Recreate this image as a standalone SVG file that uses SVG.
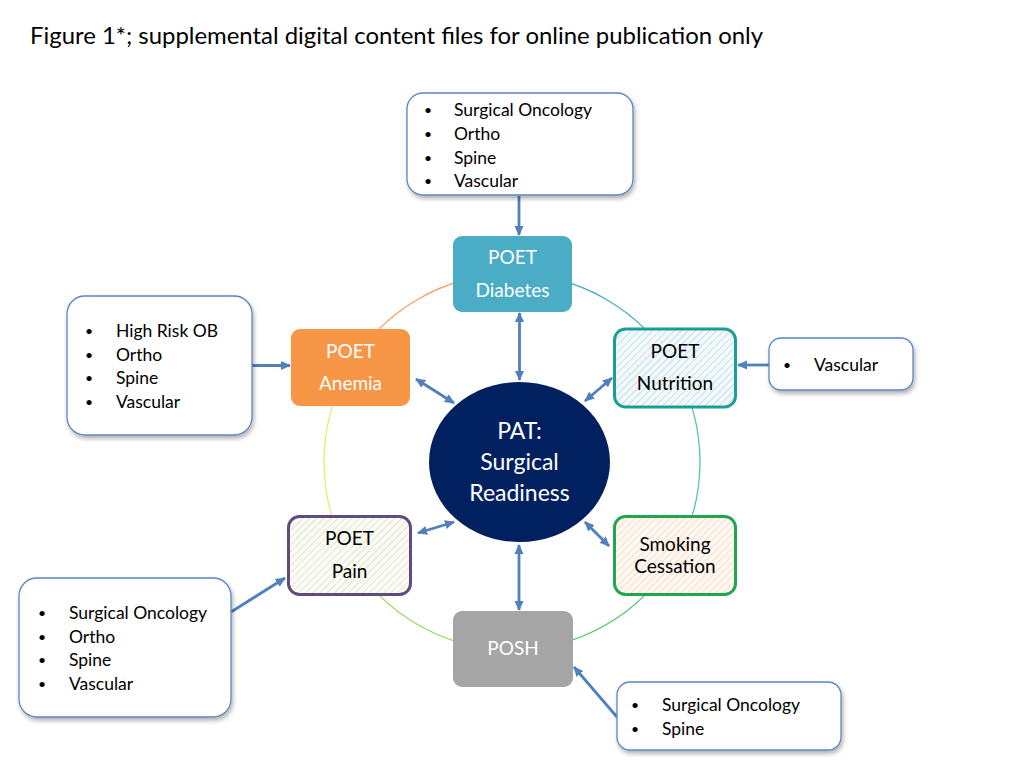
<svg xmlns="http://www.w3.org/2000/svg" width="1024" height="768" viewBox="0 0 1024 768">
<style>
  text { font-family: Lato, "Liberation Sans", sans-serif; }
  .title { font-size: 22.5px; fill: #000; }
  .ntw { font-size: 19px; fill: #fff; text-anchor: middle; }
  .ntb { font-size: 19px; fill: #000; text-anchor: middle; }
  .ct { font-size: 23px; fill: #fff; text-anchor: middle; }
  .bl { font-size: 17.5px; fill: #000; }
  .bu { font-size: 14px; fill: #000; }
  .callout { fill: #fff; stroke: #5B87C1; stroke-width: 1.3; filter: url(#sh); }
  .conn { stroke: #4F81BD; stroke-width: 2.8; fill: none; }
  .ring { fill: none; stroke-width: 1.3; }
</style>
<defs>
  <filter id="sh" x="-10%" y="-10%" width="130%" height="140%">
    <feDropShadow dx="1.5" dy="3" stdDeviation="2" flood-color="#000" flood-opacity="0.3"/>
  </filter>
  <marker id="ah" viewBox="0 0 10 10" markerWidth="3.6" markerHeight="3.6" refX="9" refY="5" orient="auto-start-reverse" markerUnits="strokeWidth">
    <path d="M0,0.5 L10,5 L0,9.5 z" fill="#4F81BD"/>
  </marker>
  <pattern id="hNut" width="5" height="5" patternUnits="userSpaceOnUse" patternTransform="rotate(45)">
    <rect width="5" height="5" fill="#F3F9FB"/>
    <line x1="0" y1="0" x2="0" y2="5" stroke="#B9DCE6" stroke-width="1.6"/>
  </pattern>
  <pattern id="hSmk" width="5" height="5" patternUnits="userSpaceOnUse" patternTransform="rotate(45)">
    <rect width="5" height="5" fill="#FFF8F3"/>
    <line x1="0" y1="0" x2="0" y2="5" stroke="#F6D5C0" stroke-width="1.6"/>
  </pattern>
  <pattern id="hPain" width="5" height="5" patternUnits="userSpaceOnUse" patternTransform="rotate(45)">
    <rect width="5" height="5" fill="#FAFBF4"/>
    <line x1="0" y1="0" x2="0" y2="5" stroke="#DCE4C8" stroke-width="1.6"/>
  </pattern>
</defs>

<rect width="1024" height="768" fill="#fff"/>

<text class="title" x="30" y="44" textLength="733" lengthAdjust="spacingAndGlyphs">Figure 1*; supplemental digital content files for online publication only</text>

<g id="ring">
  <path class="ring" stroke="#4BACC6" d="M512,274 A188,188 0 0 1 674.8,368"/>
  <path class="ring" stroke="#4FC9B0" d="M674.8,368 A188,188 0 0 1 674.8,556"/>
  <path class="ring" stroke="#4CC95E" d="M674.8,556 A188,188 0 0 1 512,650"/>
  <path class="ring" stroke="#92DD5A" d="M512,650 A188,188 0 0 1 349.2,556"/>
  <path class="ring" stroke="#EDEB62" d="M349.2,556 A188,188 0 0 1 349.2,368"/>
  <path class="ring" stroke="#F4A06A" d="M349.2,368 A188,188 0 0 1 512,274"/>
</g>

<g id="connectors">
  <line class="conn" x1="519" y1="196" x2="519" y2="235" marker-end="url(#ah)"/>
  <line class="conn" x1="252" y1="365.5" x2="290" y2="365.5" marker-end="url(#ah)"/>
  <line class="conn" x1="769" y1="365" x2="738" y2="365" marker-end="url(#ah)"/>
  <line class="conn" x1="231" y1="612" x2="285" y2="578" marker-end="url(#ah)"/>
  <line class="conn" x1="617" y1="717" x2="574" y2="667" marker-end="url(#ah)"/>
  <line class="conn" x1="519.5" y1="313" x2="519.5" y2="380" marker-start="url(#ah)" marker-end="url(#ah)"/>
  <line class="conn" x1="416" y1="379" x2="454" y2="403" marker-start="url(#ah)" marker-end="url(#ah)"/>
  <line class="conn" x1="612" y1="378" x2="585" y2="401" marker-start="url(#ah)" marker-end="url(#ah)"/>
  <line class="conn" x1="418" y1="533" x2="454" y2="522" marker-start="url(#ah)" marker-end="url(#ah)"/>
  <line class="conn" x1="585" y1="522" x2="609" y2="546" marker-start="url(#ah)" marker-end="url(#ah)"/>
  <line class="conn" x1="519" y1="545" x2="519" y2="610" marker-start="url(#ah)" marker-end="url(#ah)"/>
</g>

<g id="pat">
  <ellipse cx="519.5" cy="462" rx="90.5" ry="80" fill="#002060"/>
  <text class="ct" x="519.5" y="439">PAT:</text>
  <text class="ct" x="519.5" y="470">Surgical</text>
  <text class="ct" x="519.5" y="501">Readiness</text>
</g>

<g id="diabetes">
  <rect x="453" y="236" width="119" height="76" rx="9" fill="#4BACC6"/>
  <text class="ntw" x="512.5" y="264">POET</text>
  <text class="ntw" x="512.5" y="297">Diabetes</text>
</g>

<g id="anemia">
  <rect x="291" y="329" width="119" height="77" rx="9" fill="#F79646"/>
  <text class="ntw" x="350.5" y="358">POET</text>
  <text class="ntw" x="350.5" y="390">Anemia</text>
</g>

<g id="nutrition">
  <rect x="614.5" y="329" width="121" height="78" rx="11" fill="url(#hNut)" stroke="#1C9D9A" stroke-width="3"/>
  <text class="ntb" x="675" y="358">POET</text>
  <text class="ntb" x="675" y="390">Nutrition</text>
</g>

<g id="smoking">
  <rect x="614.5" y="516.5" width="121" height="78" rx="11" fill="url(#hSmk)" stroke="#1FA64F" stroke-width="3"/>
  <text class="ntb" x="675" y="551">Smoking</text>
  <text class="ntb" x="675" y="573">Cessation</text>
</g>

<g id="pain">
  <rect x="288.5" y="516.5" width="122" height="78" rx="11" fill="url(#hPain)" stroke="#5F4B80" stroke-width="3"/>
  <text class="ntb" x="349.5" y="545">POET</text>
  <text class="ntb" x="349.5" y="578">Pain</text>
</g>

<g id="posh">
  <rect x="453" y="611" width="120" height="76" rx="9" fill="#A5A5A5"/>
  <text class="ntw" x="513" y="655">POSH</text>
</g>

<g id="callout-top">
  <rect class="callout" x="407" y="93" width="226" height="102" rx="16"/>
  <text class="bu" x="424" y="115">•</text><text class="bl" x="454" y="116">Surgical Oncology</text>
  <text class="bu" x="424" y="139">•</text><text class="bl" x="454" y="140">Ortho</text>
  <text class="bu" x="424" y="163">•</text><text class="bl" x="454" y="164">Spine</text>
  <text class="bu" x="424" y="186">•</text><text class="bl" x="454" y="187">Vascular</text>
</g>

<g id="callout-left-top">
  <rect class="callout" x="67" y="296" width="185" height="139" rx="18"/>
  <text class="bu" x="85" y="336">•</text><text class="bl" x="116" y="337">High Risk OB</text>
  <text class="bu" x="85" y="360">•</text><text class="bl" x="116" y="361">Ortho</text>
  <text class="bu" x="85" y="383">•</text><text class="bl" x="116" y="384">Spine</text>
  <text class="bu" x="85" y="407">•</text><text class="bl" x="116" y="408">Vascular</text>
</g>

<g id="callout-right">
  <rect class="callout" x="769" y="338" width="144" height="52" rx="12"/>
  <text class="bu" x="783" y="370">•</text><text class="bl" x="814" y="371">Vascular</text>
</g>

<g id="callout-left-bottom">
  <rect class="callout" x="19" y="578" width="212" height="139" rx="18"/>
  <text class="bu" x="38" y="618">•</text><text class="bl" x="69" y="619">Surgical Oncology</text>
  <text class="bu" x="38" y="642">•</text><text class="bl" x="69" y="643">Ortho</text>
  <text class="bu" x="38" y="665">•</text><text class="bl" x="69" y="666">Spine</text>
  <text class="bu" x="38" y="689">•</text><text class="bl" x="69" y="690">Vascular</text>
</g>

<g id="callout-bottom-right">
  <rect class="callout" x="617" y="682" width="224" height="68" rx="13"/>
  <text class="bu" x="631" y="710">•</text><text class="bl" x="662" y="711">Surgical Oncology</text>
  <text class="bu" x="631" y="734">•</text><text class="bl" x="662" y="735">Spine</text>
</g>
</svg>
